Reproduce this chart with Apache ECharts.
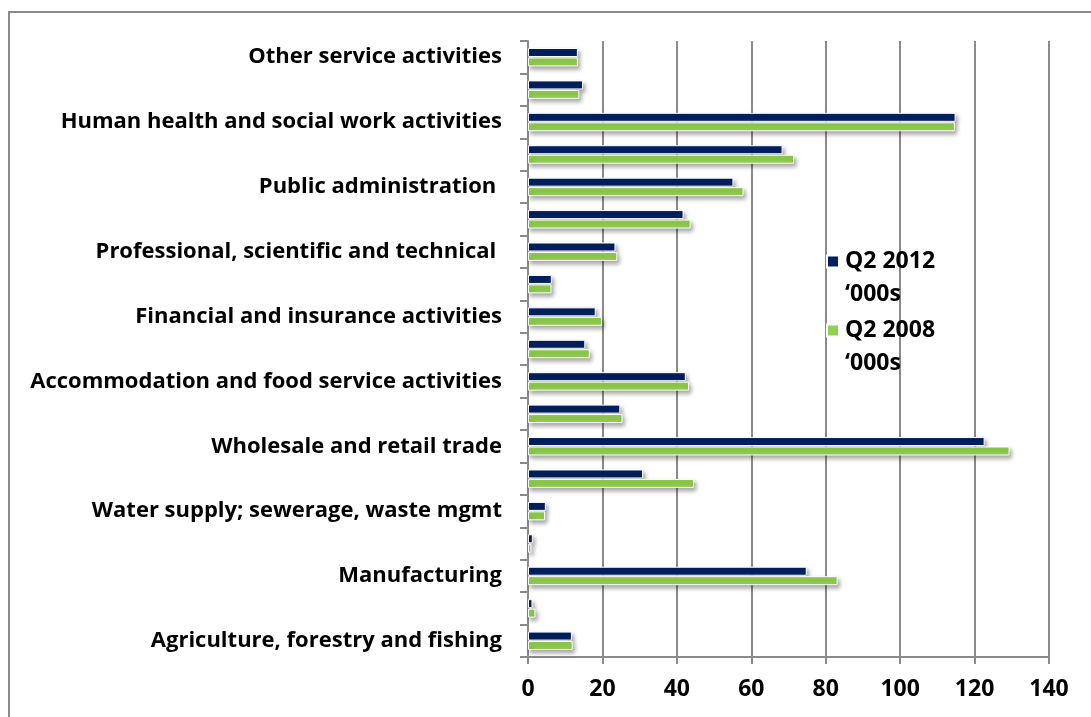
<!DOCTYPE html>
<html>
<head>
<meta charset="utf-8">
<script src="https://cdn.jsdelivr.net/npm/echarts@6/dist/echarts.min.js"></script>
<style>
  html, body { margin: 0; padding: 0; background: #fff; }
  #chart { width: 1091px; height: 717px; }
</style>
</head>
<body>
<div id="chart"></div>
<script>
// Employment by sector, bottom to top (every other label shown on the axis)
const sectors = [
  'Agriculture, forestry and fishing',
  'Mining and quarrying',
  'Manufacturing',
  'Electricity, gas and steam supply',
  'Water supply; sewerage, waste mgmt',
  'Construction',
  'Wholesale and retail trade',
  'Transportation and storage',
  'Accommodation and food service activities',
  'Information and communication',
  'Financial and insurance activities',
  'Real estate activities',
  'Professional, scientific and technical ',
  'Administrative and support services',
  'Public administration ',
  'Education',
  'Human health and social work activities',
  'Arts, entertainment and recreation',
  'Other service activities'
];

// Thousands employed, Q2 2012
const q2_2012 = [11.8, 1.2, 74.9, 1.3, 4.8, 30.9, 122.7, 24.8, 42.4, 15.4, 18.2, 6.4, 23.5, 41.8, 55.2, 68.4, 114.9, 14.8, 13.4];
// Thousands employed, Q2 2008
const q2_2008 = [12.0, 2.0, 83.2, 0.9, 4.6, 44.6, 129.4, 25.4, 43.3, 16.6, 19.9, 6.3, 24.0, 43.7, 57.9, 71.5, 114.7, 13.8, 13.4];

const seriesNames = ['Q2 2012\n\u2018000s', 'Q2 2008\n\u2018000s'];
const xTicks = [0, 20, 40, 60, 80, 100, 120, 140];

const FONT = '"Open Sans", sans-serif';
const GREY = '#8a8a8a';

const chart = echarts.init(document.getElementById('chart'), null, { renderer: 'canvas' });

const barStyle = (color) => ({
  color: color,
  borderColor: '#ffffff',
  borderWidth: 1,
  shadowColor: 'rgba(0,0,0,0.35)',
  shadowBlur: 4,
  shadowOffsetX: 2,
  shadowOffsetY: 3
});

chart.setOption({
  animation: false,
  backgroundColor: '#ffffff',
  textStyle: { fontFamily: FONT },
  grid: { left: 528, right: 42, top: 41, bottom: 60, containLabel: false },
  graphic: [{
    type: 'rect',
    shape: { x: 9, y: 12, width: 1200, height: 800 },
    style: { fill: 'none', stroke: GREY, lineWidth: 2 },
    z: -1
  }],
  legend: {
    orient: 'vertical',
    left: 826,
    top: 212,
    padding: 0,
    itemWidth: 12,
    itemHeight: 12,
    itemGap: -30,
    icon: 'rect',
    data: seriesNames,
    // an empty leading line keeps the marker level with the first text line
    formatter: (name) => '\n' + name,
    textStyle: {
      fontFamily: FONT,
      fontWeight: 'bold',
      fontSize: 23,
      color: '#000',
      lineHeight: 33,
      padding: [0, 0, 0, 1]
    }
  },
  xAxis: {
    type: 'value',
    min: 0,
    max: 140,
    interval: 20,
    axisLine: { show: true, lineStyle: { color: GREY, width: 2 } },
    axisTick: { show: true, length: 7, lineStyle: { color: GREY, width: 2 } },
    splitLine: { show: true, lineStyle: { color: GREY, width: 2 } },
    axisLabel: {
      margin: 21,
      fontFamily: FONT,
      fontWeight: 'bold',
      fontSize: 23,
      color: '#000',
      formatter: (v) => xTicks.includes(v) ? String(v) : ''
    }
  },
  yAxis: {
    type: 'category',
    data: sectors,
    axisLine: { show: true, lineStyle: { color: GREY, width: 2 } },
    axisTick: { show: true, interval: 0, length: 8, lineStyle: { color: GREY, width: 2 } },
    axisLabel: {
      interval: 1,
      margin: 26,
      fontFamily: FONT,
      fontWeight: 'bold',
      fontSize: 22,
      color: '#000'
    }
  },
  series: [
    {
      name: seriesNames[0],
      type: 'bar',
      data: q2_2012,
      barWidth: 9,
      barGap: '5%',
      itemStyle: barStyle('#00205f')
    },
    {
      name: seriesNames[1],
      type: 'bar',
      data: q2_2008,
      barWidth: 9,
      barGap: '5%',
      itemStyle: barStyle('#92d050')
    }
  ]
});
</script>
</body>
</html>
